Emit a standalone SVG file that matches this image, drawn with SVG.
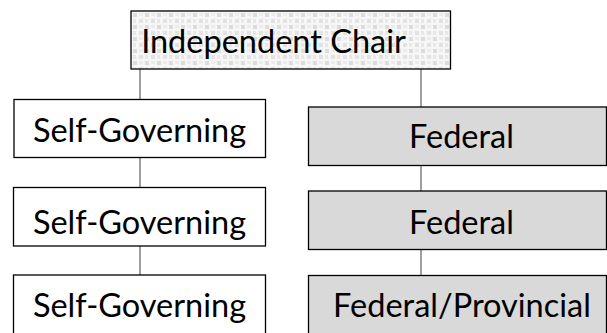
<svg xmlns="http://www.w3.org/2000/svg" width="607" height="333" viewBox="0 0 607 333">
<style>
.box{stroke:#000;stroke-width:1.3}
.plain{fill:#fff}
.fed{fill:#d9d9d9}
.lbl{font-family:Lato,"Open Sans","Liberation Sans",sans-serif;font-size:32.5px;fill:#000;text-anchor:middle}
.conn{stroke:#7f7f7f;stroke-width:1.5;fill:none}
</style>
<defs>
<pattern id="dots" width="12" height="12" patternUnits="userSpaceOnUse">
<rect width="12" height="12" fill="#f6f6f6"/>
<rect x="1" y="1" width="4" height="4" fill="#dcdcdc"/>
<rect x="7" y="7" width="4" height="4" fill="#e2e2e2"/>
<rect x="7" y="1" width="4" height="3" fill="#ececec"/>
<rect x="1" y="7" width="3" height="4" fill="#e8e8e8"/>
</pattern>
</defs>
<g id="connectors">
<line class="conn" x1="140" y1="69" x2="140" y2="99.5"/>
<line class="conn" x1="140" y1="157.5" x2="140" y2="187.5"/>
<line class="conn" x1="140" y1="246" x2="140" y2="275"/>
<line class="conn" x1="421" y1="69" x2="421" y2="107"/>
<line class="conn" x1="421" y1="165" x2="421" y2="191"/>
<line class="conn" x1="421" y1="249.5" x2="421" y2="275.5"/>
</g>
<g id="chair">
<rect class="box" x="131" y="11" width="319.5" height="58" fill="url(#dots)"/>
<text class="lbl" x="273.5" y="53">Independent Chair</text>
</g>
<g id="sg1">
<rect class="box plain" x="14" y="99.5" width="251.5" height="58"/>
<text class="lbl" x="139.5" y="141.5">Self-Governing</text>
</g>
<g id="sg2">
<rect class="box plain" x="13.5" y="187.5" width="252" height="58.5"/>
<text class="lbl" x="139.5" y="234">Self-Governing</text>
</g>
<g id="sg3">
<rect class="box plain" x="13.5" y="275" width="252" height="60"/>
<text class="lbl" x="139.5" y="316.5">Self-Governing</text>
</g>
<g id="fed1">
<rect class="box fed" x="308.5" y="107" width="298" height="58.5"/>
<text class="lbl" x="461.5" y="147.5">Federal</text>
</g>
<g id="fed2">
<rect class="box fed" x="308.5" y="191" width="298" height="58.5"/>
<text class="lbl" x="461.5" y="233.5">Federal</text>
</g>
<g id="fed3">
<rect class="box fed" x="308.5" y="275.5" width="298" height="60"/>
<text class="lbl" x="462" y="316.5">Federal/Provincial</text>
</g>
</svg>
